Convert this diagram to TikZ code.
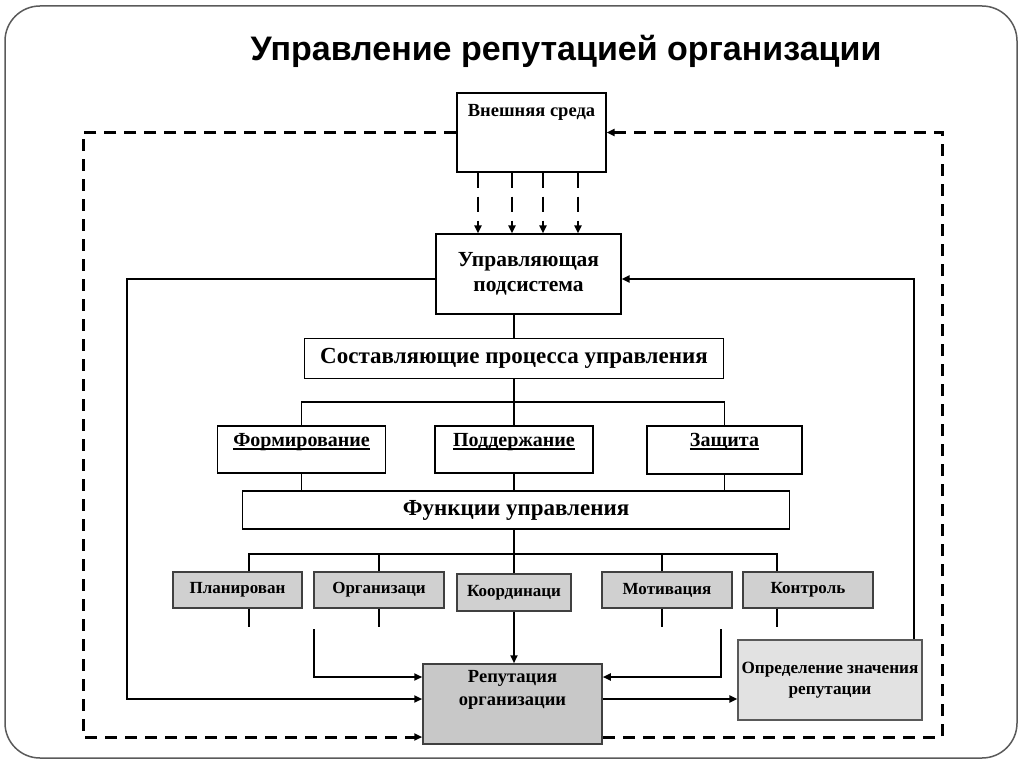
\documentclass[tikz,border=0pt]{standalone}
\usepackage{fontspec}
\setmainfont{Liberation Serif}
\newfontfamily\headfont{Liberation Sans}
\usepackage{tikz}
\usetikzlibrary{arrows.meta}

\definecolor{cellgray}{RGB}{208,208,208}
\definecolor{repgray}{RGB}{200,200,200}
\definecolor{evalgray}{RGB}{226,226,226}
\definecolor{framegray}{RGB}{90,90,90}
\newcommand{\toptext}[3]{\parbox[c][#1][t]{#2}{\centering #3}}
\newcommand{\thickul}[1]{\leavevmode{\setbox0\hbox{#1}\rlap{\rule[-3.5pt]{\wd0}{1.7pt}}\box0}}

\begin{document}
\begin{tikzpicture}[x=1pt,y=-1pt,>={Triangle[length=8pt,width=7pt]},
    plain box/.style={draw,line width=1.2pt,inner sep=0pt,
      font=\fontsize{18.5}{24}\selectfont\bfseries},
    big box/.style={plain box,font=\fontsize{23}{26}\selectfont\bfseries},
    head box/.style={plain box,font=\fontsize{20}{24}\selectfont\bfseries},
    cell box/.style={draw=black!75,fill=cellgray,line width=1.4pt,inner sep=0pt,
      minimum height=36pt,font=\fontsize{17}{22}\selectfont\bfseries},
    link/.style={line width=1.1pt},
    flow/.style={line width=1.9pt},
    loop line/.style={line width=2.2pt},
    outer/.style={line width=3pt,dash pattern=on 12pt off 8pt},
    feed/.style={line width=2.8pt,dash pattern=on 15pt off 9pt}]

  % slide frame and title
  \useasboundingbox (0,0) rectangle (1024,767);
  \draw[framegray,line width=1.5pt,rounded corners=35pt] (5,6) rectangle (1017,758);
  \node[font=\headfont\bfseries\fontsize{34}{40}\selectfont,anchor=base] (head) at (566,61)
    {Управление репутацией организации};

  % boxes
  \node[plain box,minimum width=149pt,minimum height=79pt] (ext) at (531.5,132.5)
    {\toptext{57pt}{140pt}{Внешняя среда}};
  \node[plain box,minimum width=185pt,minimum height=80pt,align=center,
    font=\fontsize{21.5}{25}\selectfont\bfseries] (ctrl) at (528.5,274)
    {Управляющая\\подсистема};
  \node[big box,minimum width=419pt,minimum height=40pt] (comp) at (514,358.5)
    {Составляющие процесса управления};
  \node[head box,minimum width=168pt,minimum height=47pt] (form) at (301.5,449.5)
    {\toptext{33pt}{160pt}{\thickul{Формирование}}};
  \node[head box,minimum width=158pt,minimum height=47pt] (supp) at (514,449.5)
    {\toptext{33pt}{150pt}{\thickul{Поддержание}}};
  \node[head box,minimum width=155pt,minimum height=48pt] (prot) at (724.5,450)
    {\toptext{34pt}{150pt}{\thickul{Защита}}};
  \node[big box,minimum width=547pt,minimum height=38pt] (func) at (516,510)
    {Функции управления};

  \node[cell box,minimum width=129pt] (plan) at (237.5,590) {Планирован};
  \node[cell box,minimum width=130pt] (org) at (379,590) {Организаци};
  \node[cell box,minimum width=114pt,minimum height=37pt] (coord) at (514,592.5) {Координаци};
  \node[cell box,minimum width=130pt] (mot) at (667,590) {Мотивация};
  \node[cell box,minimum width=130pt] (ctl) at (808,590) {Контроль};

  \node[plain box,draw=black!75,fill=repgray,line width=1.5pt,minimum width=179pt,
    minimum height=80pt,font=\fontsize{18.5}{23}\selectfont\bfseries] (rep) at (512.5,704)
    {\toptext{68pt}{170pt}{Репутация\\организации}};
  \node[plain box,draw=black!65,fill=evalgray,minimum width=184pt,minimum height=80pt,
    align=center,font=\fontsize{17.2}{21}\selectfont\bfseries] (eval) at (830,680)
    {Определение значения\\репутации};

  \coordinate (bus1) at (514,402);
  \coordinate (bus2) at (514,554);
  \coordinate (lft) at (127,699);
  \coordinate (outL) at (83,737);
  \coordinate (outR) at (942,0);
  \coordinate (inL) at (314,629);
  \coordinate (inR) at (721,629);

  % environment feeds
  \foreach \s in {-53.5,-19.5,11.5,46.5}
    \draw[feed,->] ([xshift=\s pt]ext.south) -- ([xshift=\s pt]ext.south |- ctrl.north);

  % tree
  \draw[link] (ctrl.south -| comp.north) -- (comp.north);
  \draw[link] (comp.south) -- (bus1);
  \draw[link] (form.north) |- (bus1) -| (prot.north);
  \draw[link] (bus1) -- (supp.north);
  \foreach \b in {form,supp,prot}
    \draw[link] (\b.south) -- (\b.south |- func.north);
  \draw[link] (coord.north |- func.south) -- (coord.north);
  \draw[link] ([xshift=11.5pt]plan.north) |- (bus2) -| ([xshift=-31pt]ctl.north);
  \draw[link] (org.north) -- (org.north |- bus2);
  \draw[link] ([xshift=-5pt]mot.north) -- ([xshift=-5pt]mot.north |- bus2);
  \foreach \b/\s in {plan/11.5,org/0,mot/-5,ctl/-31}
    \draw[link] ([xshift=\s pt]\b.south) -- ++(0,18);

  % into reputation
  \draw[flow,->] (coord.south) -- (coord.south |- rep.north);
  \draw[flow,->] (inL) |- ([yshift=27pt]rep.west);
  \draw[flow,->] (inR) |- ([yshift=27pt]rep.east);
  \draw[loop line,->] ([yshift=5pt]rep.east) -- ([yshift=5pt]rep.east -| eval.west);

  % feedback loops
  \draw[loop line,->] ([yshift=-5pt]ctrl.west) -| (lft) -- ([yshift=5pt]rep.west);
  \draw[loop line,->] ([xshift=84pt]eval.north) |- ([yshift=-5pt]ctrl.east);
  \draw[outer,->] (ext.west) -| (outL) -- ([yshift=-33pt]rep.west);
  \draw[outer,->] ([yshift=-33pt]rep.east) -| (ext.east -| outR) -- (ext.east);
\end{tikzpicture}
\end{document}
